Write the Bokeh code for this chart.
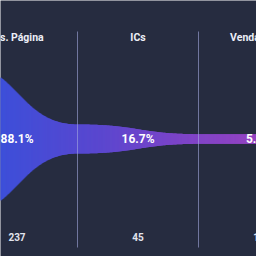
import numpy as np
from bokeh.plotting import figure
from bokeh.models import Range1d
from bokeh.core.properties import value
from bokeh.embed import file_html
from bokeh.resources import INLINE

# ---- data ----
steps = ["Visitas", "Vis. Página", "ICs", "Vendas (R$)"]
counts = [269, 237, 45, 15]
shown = [False, True, True, True]   # first step lies outside the visible window

# ---- style ----
BG = "#262c40"
K = 0.645            # px per unit of count
grad_pos = [0.0, 0.341, 0.545, 0.70, 0.87, 1.0]
grad_col = ["#2f55e0", "#3d4fd9", "#5a47cf", "#7a44c8", "#9443c2", "#a044be"]

n = len(counts)
x0, x1 = 1.0 + 44 / 121, 1.0 + 44 / 121 + 256 / 121

p = figure(width=256, height=256, output_backend="svg", toolbar_location=None,
           x_range=Range1d(x0, x1), y_range=Range1d(-117.5, 138.5),
           min_border=0, background_fill_color=BG, border_fill_color=BG,
           outline_line_color=None)
p.axis.visible = False
p.grid.visible = False

H = np.array(counts, dtype=float) * K

# bezier easing (control points at mid-x)
t = np.linspace(0, 1, 400)
xf = 1.5 * t - 1.5 * t ** 2 + t ** 3
yf = 3 * t ** 2 - 2 * t ** 3

def height_at(x):
    i = int(np.floor(x))
    i = max(0, min(i, n - 1))
    if i >= n - 1:
        return H[n - 1]
    f = np.interp(x - i, xf, yf)
    return H[i] + (H[i + 1] - H[i]) * f

def hex2rgb(h):
    return np.array([int(h[1:3], 16), int(h[3:5], 16), int(h[5:7], 16)], dtype=float)

cols_rgb = np.array([hex2rgb(c) for c in grad_col])

def color_at(x):
    fr = x / n
    rgb = [np.interp(fr, grad_pos, cols_rgb[:, j]) for j in range(3)]
    return "#%02x%02x%02x" % tuple(int(round(v)) for v in rgb)

edges = np.linspace(x0 - 0.01, x1 + 0.01, 260)
lefts, rights, tops, bottoms, colors = [], [], [], [], []
eps = (x1 - x0) / 256 * 1.2
for a, b in zip(edges[:-1], edges[1:]):
    xm = 0.5 * (a + b)
    h = height_at(xm)
    lefts.append(a)
    rights.append(b + eps)
    tops.append(h / 2)
    bottoms.append(-h / 2)
    colors.append(color_at(xm))
p.quad(left=lefts, right=rights, top=tops, bottom=bottoms,
       fill_color=colors, line_color=None)

# separators
for i in range(1, n):
    p.segment(x0=[i], y0=[107.5], x1=[i], y1=[-108.5],
              line_color="#a4aae0", line_alpha=0.6, line_width=1)

# labels
first = counts[0]
xs_lab, titles, pcts, vals = [], [], [], []
for i in range(n):
    if not shown[i]:
        continue
    xs_lab.append(i + 0.5)
    titles.append(steps[i])
    pcts.append("%.1f%%" % (counts[i] / first * 100))
    vals.append(str(counts[i]))

p.text(x=xs_lab, y=[101.5] * len(xs_lab), text=titles,
       text_font=value("Roboto"), text_font_style="bold", text_font_size="10.5px",
       text_color="#eceef6", text_align="center", text_baseline="middle")
p.text(x=xs_lab, y=[0] * len(xs_lab), text=pcts,
       text_font=value("Roboto"), text_font_style="bold", text_font_size="12px",
       text_color="#ffffff", text_align="center", text_baseline="middle")
p.text(x=xs_lab, y=[-97.5] * len(xs_lab), text=vals,
       text_font=value("Roboto"), text_font_style="bold", text_font_size="10px",
       text_color="#e2e4ee", text_align="center", text_baseline="middle")

open("out.html", "w").write(file_html(p, INLINE))
